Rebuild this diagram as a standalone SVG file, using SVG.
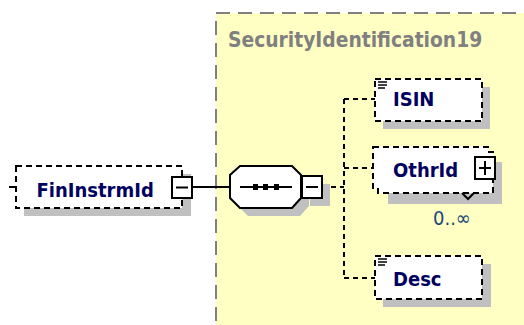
<svg xmlns="http://www.w3.org/2000/svg" width="524" height="325" viewBox="0 0 524 325">
<defs>
<style>
.lbl{font-family:'DejaVu Sans Condensed','DejaVu Sans',sans-serif;font-weight:bold;font-size:20px;fill:#000060}
.title{font-family:'DejaVu Sans Condensed','DejaVu Sans',sans-serif;font-weight:bold;font-size:20.8px;fill:#808080}
.occ{font-family:'DejaVu Sans Condensed','DejaVu Sans',sans-serif;font-size:20px;fill:#1a4a7a}
.shadow{fill:#c0c0c0;stroke:none}
.box{fill:#ffffff;stroke:#000;stroke-width:2;stroke-dasharray:6 4}
.solid{fill:#ffffff;stroke:#000;stroke-width:2}
.ln{fill:none;stroke:#000;stroke-width:2}
.dash{fill:none;stroke:#000;stroke-width:2;stroke-dasharray:5 4}
.icon{stroke:#000;stroke-width:1.5}
</style>
</defs>
<rect x="0" y="0" width="524" height="325" fill="#ffffff"/>
<g id="SecurityIdentification19">
<rect x="216" y="13" width="330" height="330" fill="#ffffc4" stroke="#808080" stroke-width="2" stroke-dasharray="14 8"/>
<text class="title" x="228" y="47">SecurityIdentification19</text>
</g>
<g id="connectors">
<line class="ln" x1="192" y1="187" x2="230" y2="187"/>
<line class="dash" x1="322" y1="187" x2="344" y2="187"/>
<line class="dash" x1="344" y1="99" x2="344" y2="278"/>
<line class="dash" x1="344" y1="99" x2="375" y2="99"/>
<line class="dash" x1="344" y1="168" x2="373" y2="168"/>
<line class="dash" x1="344" y1="278" x2="375" y2="278"/>
</g>
<g id="FinInstrmId">
<rect class="shadow" x="24" y="174" width="167" height="42"/>
<rect class="box" x="16" y="166" width="166" height="42"/>
<line class="ln" x1="9" y1="187" x2="16" y2="187"/>
<text class="lbl" x="36.5" y="197">FinInstrmId</text>
<rect class="solid" x="172" y="177" width="20" height="21"/>
<line class="ln" x1="176" y1="187.5" x2="188" y2="187.5"/>
</g>
<g id="sequence">
<polygon class="shadow" points="248,174 300,174 309,183 309,206 300,216 248,216 238,206 238,183"/>
<rect class="shadow" x="310" y="184" width="20" height="22"/>
<polygon class="solid" points="240,166 292,166 301,175 301,198 292,208 240,208 230,198 230,175"/>
<line class="ln" x1="240" y1="187" x2="292" y2="187"/>
<rect x="253" y="184" width="5" height="6" fill="#000"/>
<rect x="263" y="184" width="5" height="6" fill="#000"/>
<rect x="274" y="184" width="5" height="6" fill="#000"/>
<rect class="solid" x="302" y="176" width="20" height="22"/>
<line class="ln" x1="306" y1="187" x2="318" y2="187"/>
</g>
<g id="ISIN">
<rect class="shadow" x="383" y="87" width="107" height="42"/>
<rect class="box" x="375" y="79" width="107" height="42"/>
<line class="icon" x1="378" y1="82" x2="387" y2="82"/>
<line class="icon" x1="378" y1="85" x2="387" y2="85"/>
<line class="icon" x1="378" y1="88" x2="385" y2="88"/>
<text class="lbl" x="393" y="106">ISIN</text>
</g>
<g id="OthrId">
<rect class="shadow" x="388" y="162" width="114" height="42"/>
<polygon points="373,147 488,147 488,152 493,152 493,193 378,193 378,189 373,189" fill="#ffffff" stroke="#000" stroke-width="2" stroke-dasharray="6 4"/>
<polyline class="ln" points="462,193 468,199 474,193"/>
<text class="lbl" x="393" y="177">OthrId</text>
<rect class="solid" x="475" y="157" width="20" height="22"/>
<line class="ln" x1="479" y1="168" x2="491" y2="168"/>
<line class="ln" x1="485" y1="161" x2="485" y2="175"/>
<text class="occ" x="433" y="225">0..∞</text>
</g>
<g id="Desc">
<rect class="shadow" x="383" y="264" width="108" height="43"/>
<rect class="box" x="375" y="256" width="107" height="43"/>
<line class="icon" x1="378" y1="259" x2="387" y2="259"/>
<line class="icon" x1="378" y1="262" x2="387" y2="262"/>
<line class="icon" x1="378" y1="265" x2="385" y2="265"/>
<text class="lbl" x="393" y="286">Desc</text>
</g>
</svg>
